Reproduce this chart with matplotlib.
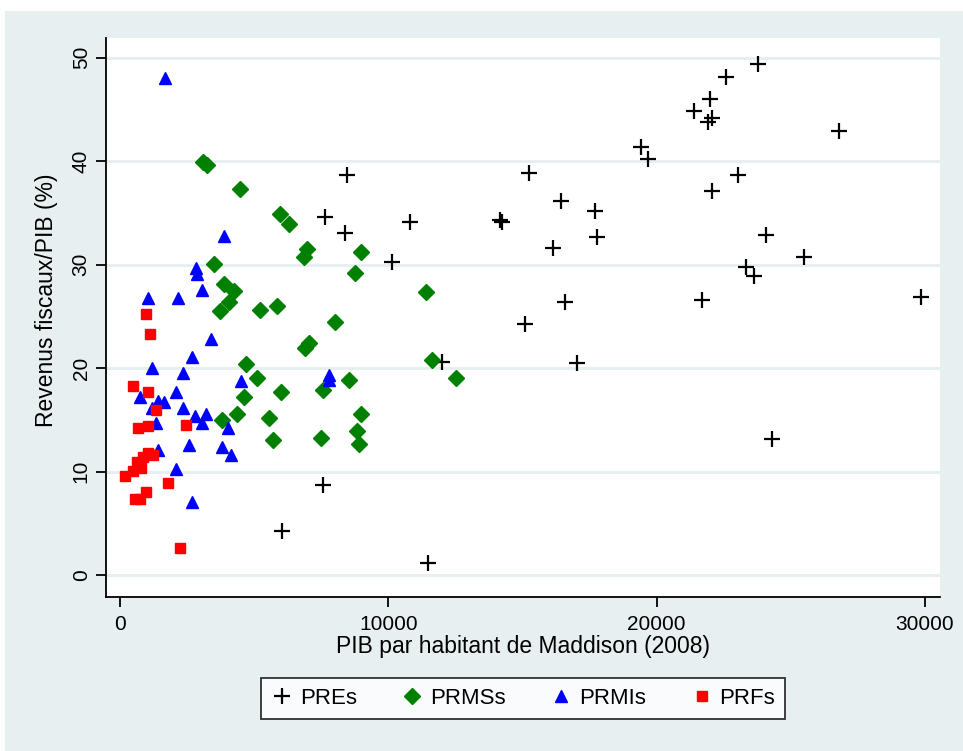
import matplotlib
matplotlib.use("Agg")
import matplotlib.pyplot as plt
from matplotlib.patches import Rectangle

plt.rcParams['font.family'] = ['Liberation Sans', 'DejaVu Sans']

# PREs
pre_x = [23780, 22590, 21990, 21390, 22060, 21910, 26800, 19420, 19680, 15240,
         23040, 22060, 16440, 17700, 14150, 14250, 17780, 16140, 24080, 25490,
         23330, 23630, 21690, 29850, 16590, 15090, 17030, 24300, 8460, 7640,
         8390, 10810, 10130, 12000, 7570, 6040, 11480]
pre_y = [49.4, 48.1, 46.0, 44.8, 44.2, 43.8, 42.9, 41.4, 40.2, 38.9,
         38.7, 37.1, 36.2, 35.2, 34.3, 34.1, 32.7, 31.6, 32.9, 30.7,
         29.8, 28.9, 26.6, 26.9, 26.4, 24.3, 20.5, 13.2, 38.7, 34.6,
         33.1, 34.1, 30.3, 20.6, 8.7, 4.3, 1.2]

# PRMSs
prms_x = [3090, 3240, 4470, 5960, 6300, 6970, 6860, 8980, 3500, 8760,
          3880, 4250, 4060, 3730, 5220, 5850, 11400, 8010, 6900, 7040,
          4700, 11630, 12520, 5110, 8540, 6000, 7570, 4620, 4360, 3820,
          5550, 8980, 8830, 8910, 5700, 7490]
prms_y = [39.9, 39.6, 37.3, 34.9, 33.9, 31.5, 30.7, 31.2, 30.1, 29.2,
          28.1, 27.5, 26.4, 25.5, 25.6, 26.0, 27.4, 24.5, 22.0, 22.4,
          20.4, 20.8, 19.1, 19.1, 18.9, 17.7, 17.9, 17.2, 15.6, 15.0,
          15.2, 15.6, 13.9, 12.7, 13.1, 13.3]

# PRMIs
prmi_x = [1680, 3880, 2830, 2870, 3060, 1040, 2160, 3390, 2680, 1190,
          2350, 4510, 750, 2090, 1420, 1640, 1190, 2350, 2800, 3210,
          1340, 3060, 4030, 1420, 2570, 3800, 4140, 2090, 2680, 7790, 7790]
prmi_y = [48.0, 32.8, 29.7, 29.1, 27.6, 26.8, 26.8, 22.8, 21.1, 20.0,
          19.5, 18.8, 17.2, 17.7, 16.8, 16.7, 16.2, 16.2, 15.4, 15.6,
          14.7, 14.7, 14.2, 12.1, 12.6, 12.4, 11.6, 10.3, 7.1, 19.3, 18.9]

# PRFs
prf_x = [970, 1120, 480, 1040, 1340, 2460, 680, 1050, 1040, 1230,
         860, 630, 480, 190, 780, 1790, 970, 560, 750, 2240]
prf_y = [25.2, 23.3, 18.3, 17.7, 16.0, 14.5, 14.2, 14.4, 11.8, 11.6,
         11.4, 10.9, 10.1, 9.6, 10.4, 8.9, 8.0, 7.4, 7.4, 2.6]

fig = plt.figure(figsize=(9.63, 7.51), dpi=100, facecolor='white')
fig.patches.append(Rectangle((5 / 963, 0), 1, 1 - 11 / 751, transform=fig.transFigure,
                             facecolor='#e8eff1', edgecolor='none', zorder=-10))

ax = fig.add_axes([106 / 963, 1 - 597 / 751, (940 - 106) / 963, (597 - 38) / 751])
ax.set_facecolor('white')

ax.plot(pre_x, pre_y, linestyle='none', marker='+', ms=12, mew=1.6, color='black', label='PREs')
ax.plot(prms_x, prms_y, linestyle='none', marker='D', ms=8.5, color='#008000', label='PRMSs')
ax.plot(prmi_x, prmi_y, linestyle='none', marker='^', ms=8, color='blue', label='PRMIs')
ax.plot(prf_x, prf_y, linestyle='none', marker='s', ms=7.5, color='red', label='PRFs')

ax.set_xlim(-520, 30560)
ax.set_ylim(-2.1, 51.9)
ax.set_xticks([0, 10000, 20000, 30000])
ax.set_yticks([0, 10, 20, 30, 40, 50])
ax.grid(axis='y', color='#e6eef0', linewidth=2)
ax.set_axisbelow(True)

for s in ['top', 'right']:
    ax.spines[s].set_visible(False)
for s in ['left', 'bottom']:
    ax.spines[s].set_linewidth(1.3)

ax.tick_params(axis='both', length=7, width=1.3, labelsize=15)
ax.tick_params(axis='x', pad=6)
ax.tick_params(axis='y', pad=4)
plt.setp(ax.get_yticklabels(), rotation=90, va='center')

ax.set_xlabel('PIB par habitant de Maddison (2008)', fontsize=16.5, labelpad=1)
ax.set_ylabel('Revenus fiscaux/PIB (%)', fontsize=16.5)
ax.yaxis.set_label_coords(-0.057, 0.53)

leg = ax.legend(loc='upper center', bbox_to_anchor=(0.5, -0.125), ncol=4, frameon=True,
                fancybox=False, fontsize=16, handletextpad=0.3, columnspacing=2.0,
                borderpad=0.45, handlelength=1.0)
leg.get_frame().set_edgecolor('black')
leg.get_frame().set_linewidth(1.3)

fig.savefig('out.png', dpi=100, facecolor=fig.get_facecolor())
